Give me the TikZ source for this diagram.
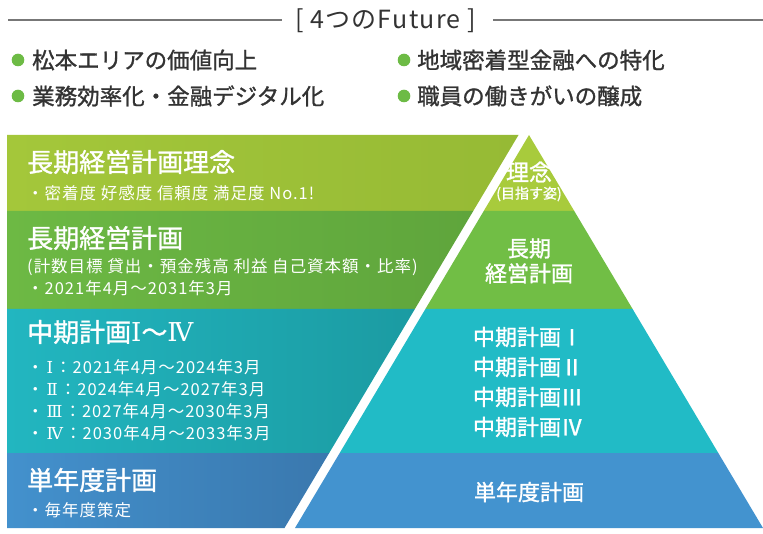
\documentclass[tikz,border=0pt]{standalone}
\usepackage{fontspec}
\setmainfont{Noto Sans CJK JP}
\newfontfamily\subfont{Noto Sans CJK JP}[LetterSpace=6]
\newfontfamily\titlefont{Noto Sans CJK JP}[LetterSpace=5]
\newfontfamily\medfont{Noto Sans CJK JP}[FakeBold=1.2]
\newfontfamily\romfont{DejaVu Serif}
\newcommand{\rn}[1]{{\romfont #1}}
\newcommand{\rns}[1]{\kern3pt{\romfont #1}\kern2pt}
\definecolor{txt}{HTML}{333333}
\definecolor{rule}{HTML}{777777}
\definecolor{dot}{HTML}{6DBB45}
\definecolor{aL}{HTML}{A4C73A}\definecolor{aR}{HTML}{96BA35}\definecolor{aP}{HTML}{A8CB3C}
\definecolor{bL}{HTML}{6DB944}\definecolor{bR}{HTML}{5FA53C}\definecolor{bP}{HTML}{71BE45}
\definecolor{cL}{HTML}{22B6C0}\definecolor{cR}{HTML}{1B9BA2}\definecolor{cP}{HTML}{21BBC6}
\definecolor{dL}{HTML}{4391CD}\definecolor{dR}{HTML}{3A78AE}\definecolor{dP}{HTML}{4393CF}
\begin{document}
\begin{tikzpicture}[x=1pt,y=-1pt,
  tstyle/.style={text=white, inner sep=0pt, anchor=west},
  head/.style={tstyle, font=\medfont\fontsize{26}{28}\selectfont},
  sub/.style={tstyle, font=\subfont\fontsize{16.5}{18}\selectfont},
  ptext/.style={text=white, inner sep=0pt, align=center, font=\medfont\fontsize{22}{25}\selectfont},
  bul/.style={text=txt, inner sep=0pt, anchor=west, font=\medfont\fontsize{22.5}{24}\selectfont},
  bdot/.style={fill=dot, draw=none},
  hline/.style={draw=rule, line width=1.2pt}]
\useasboundingbox (0,0) rectangle (763,534);
% header
\node[text=txt, inner sep=0pt, font=\titlefont\fontsize{25}{27}\selectfont] (title) at (385.5,21) {[ 4つのFuture ]};
\coordinate (hl1) at (8,20); \coordinate (hr2) at (763,20);
\draw[hline] (hl1) -- (282,20);
\draw[hline] (493,20) -- (hr2);
% bullets
\fill[bdot] (18,60) circle (6.3);
\node[bul] (b1) at (32,60) {松本エリアの価値向上};
\fill[bdot] (18,96) circle (6.3);
\node[bul] (b2) at (32,96) {業務効率化・金融デジタル化};
\fill[bdot] (404,60) circle (6.3);
\node[bul] (b3) at (417,60) {地域密着型金融への特化};
\fill[bdot] (404,96) circle (6.3);
\node[bul] (b4) at (417,96) {職員の働きがいの醸成};
% left bands
\shade[left color=aL, right color=aR] (7,135) -- (518.5,135) -- (473.25,211) -- (7,211) -- cycle;
\shade[left color=bL, right color=bR] (7,211) -- (473.25,211) -- (414.9,309) -- (7,309) -- cycle;
\shade[left color=cL, right color=cR] (7,309) -- (414.9,309) -- (329.2,453) -- (7,453) -- cycle;
\shade[left color=dL, right color=dR] (7,453) -- (329.2,453) -- (284.5,528) -- (7,528) -- cycle;
% pyramid
\fill[aP] (529,135) -- (574.25,211) -- (483.75,211) -- cycle;
\fill[bP] (483.75,211) -- (574.25,211) -- (632.6,309) -- (425.4,309) -- cycle;
\fill[cP] (425.4,309) -- (632.6,309) -- (718.3,453) -- (339.7,453) -- cycle;
\fill[dP] (339.7,453) -- (718.3,453) -- (763,528) -- (295,528) -- cycle;
% left texts
\node[head] (h1) at (27,162) {長期経営計画理念};
\node[sub] (s1) at (27,193) {・密着度 好感度 信頼度 満足度 No.1!};
\node[head] (h2) at (27,238) {長期経営計画};
\node[sub] (s2) at (27,267) {(計数目標 貸出・預金残高 利益 自己資本額・比率)};
\node[sub] (s3) at (27,288) {・2021年4月～2031年3月};
\node[head] (h3) at (27,332) {中期計画\rn{Ⅰ}～\rn{Ⅳ}};
\node[sub] (s4) at (27,367) {・\rns{Ⅰ}：2021年4月～2024年3月};
\node[sub] (s5) at (27,389) {・\rns{Ⅱ}：2024年4月～2027年3月};
\node[sub] (s6) at (27,411) {・\rns{Ⅲ}：2027年4月～2030年3月};
\node[sub] (s7) at (27,433) {・\rns{Ⅳ}：2030年4月～2033年3月};
\node[head] (h4) at (27,480) {単年度計画};
\node[sub] (s8) at (27,510) {・毎年度策定};
% pyramid texts
\node[ptext, font=\medfont\fontsize{23}{25}\selectfont] (p1) at (529,172) {理念};
\node[ptext, font=\medfont\fontsize{14}{16}\selectfont] (p1b) at (529,194) {(目指す姿)};
\node[ptext] (p2) at (529,261) {長期\\経営計画};
\node[ptext, align=left, font=\medfont\fontsize{22}{30}\selectfont] (p3) at (528,382) {中期計画Ⅰ\\中期計画Ⅱ\\中期計画Ⅲ\\中期計画Ⅳ};
\node[ptext] (p4) at (529,492) {単年度計画};
\end{tikzpicture}
\end{document}
